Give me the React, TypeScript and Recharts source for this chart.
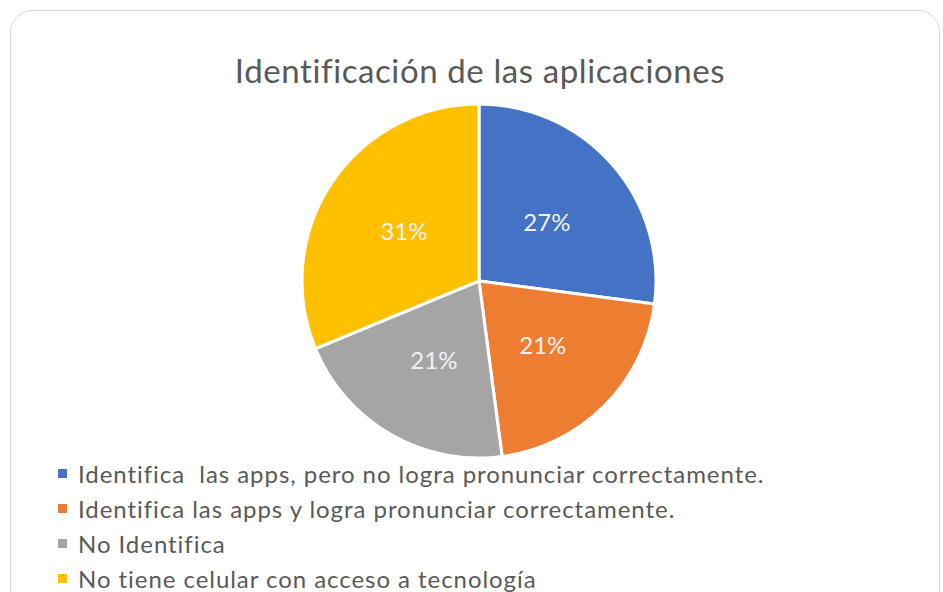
import React from 'react'
import { PieChart, Pie, Cell, Legend } from 'recharts'

// Respuestas por categoría (conteos)
const categories = [
  'Identifica  las apps, pero no logra pronunciar correctamente.',
  'Identifica las apps y logra pronunciar correctamente.',
  'No Identifica',
  'No tiene celular con acceso a tecnología',
]
const values = [13, 10, 10, 15]
const colors = ['#4472C4', '#ED7D31', '#A5A5A5', '#FFC000']

const data = categories.map((name, i) => ({ name, value: values[i] }))

const RADIAN = Math.PI / 180
const FONT = "Lato, 'Open Sans', sans-serif"

const renderLabel = ({ cx, cy, midAngle, outerRadius, percent = 0 }: any) => {
  const r = outerRadius * 0.51
  const x = cx + r * Math.cos(-midAngle * RADIAN)
  const y = cy + r * Math.sin(-midAngle * RADIAN)
  return (
    <text
      x={x}
      y={y}
      fill='#f2f2f2'
      fontSize={24}
      fontFamily={FONT}
      textAnchor='middle'
      dominantBaseline='central'
    >
      {`${(percent * 100).toFixed(0)}%`}
    </text>
  )
}

const renderLegend = () => (
  <ul style={{ listStyle: 'none', margin: 0, padding: 0, textAlign: 'left' }}>
    {data.map((d, i) => (
      <li
        key={d.name}
        style={{
          display: 'flex',
          alignItems: 'center',
          height: 35,
          fontSize: 24,
          fontFamily: FONT,
          color: '#595959',
          letterSpacing: 0.95,
          whiteSpace: 'pre',
        }}
      >
        <span
          style={{
            display: 'inline-block',
            width: 9,
            height: 9,
            background: colors[i],
            marginRight: 11,
          }}
        />
        {d.name}
      </li>
    ))}
  </ul>
)

export default function App() {
  return (
    <div style={{ position: 'fixed', left: 0, top: 0, width: 943, height: 592, background: '#fff', overflow: 'hidden' }}>
      <div
        style={{
          position: 'absolute',
          left: 10,
          top: 10,
          width: 928,
          height: 620,
          border: '1.5px solid #d9d9d9',
          borderRadius: 22,
        }}
      />
      <div
        style={{
          position: 'absolute',
          left: 0,
          width: 960,
          top: 50,
          textAlign: 'center',
          fontSize: 33,
          fontFamily: FONT,
          color: '#595959',
          letterSpacing: 0.6,
        }}
      >
        Identificación de las aplicaciones
      </div>
      <div style={{ position: 'absolute', left: 0, top: 0 }}>
        <PieChart width={943} height={592} margin={{ top: 0, right: 0, bottom: 0, left: 0 }}>
          <Pie
            data={data}
            dataKey='value'
            cx={479}
            cy={281}
            outerRadius={177}
            startAngle={90}
            endAngle={-270}
            stroke='#ffffff'
            strokeWidth={3}
            labelLine={false}
            label={renderLabel}
            isAnimationActive={false}
          >
            {data.map((entry, index) => (
              <Cell key={`cell-${index}`} fill={colors[index]} />
            ))}
          </Pie>
          <Legend
            content={renderLegend}
            layout='horizontal'
            verticalAlign='bottom'
            align='left'
            wrapperStyle={{ left: 58, top: 456, bottom: 'auto', width: 880 }}
          />
        </PieChart>
      </div>
    </div>
  )
}
